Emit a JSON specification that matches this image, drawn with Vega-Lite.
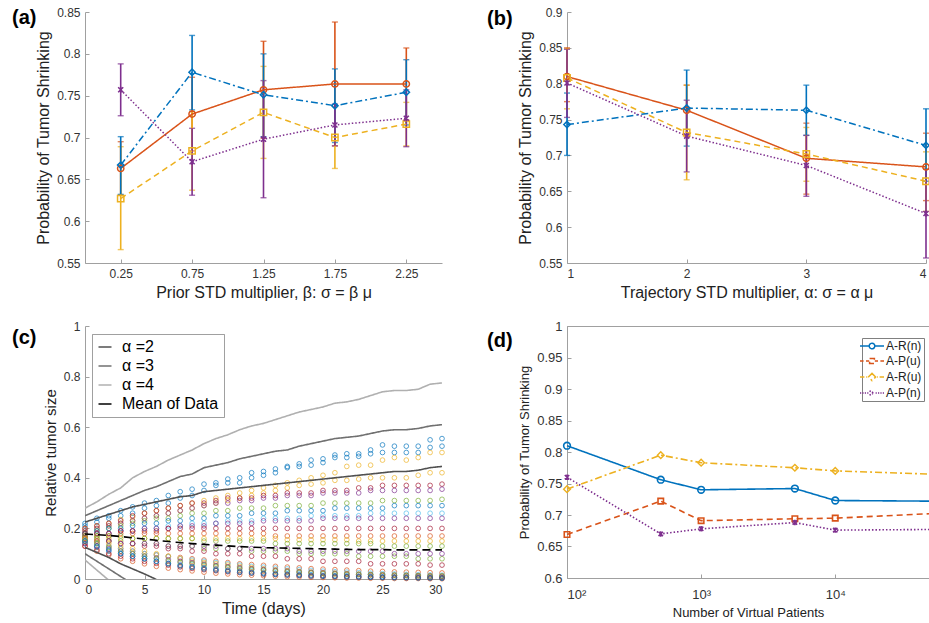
{
"$schema":"https://vega.github.io/schema/vega-lite/v6.json",
"background":"white",
"padding":{"left":12,"top":6,"right":0,"bottom":0},
"columns":2,
"align":"each",
"bounds":"flush",
"spacing":{"row":63,"column":125},
"resolve":{"scale":{"color":"independent","strokeDash":"independent","shape":"independent","strokeWidth":"independent"},"legend":{"color":"independent","strokeDash":"independent","shape":"independent","strokeWidth":"independent"}},
"datasets":{
"pa":[
{"x":0.25,"s":"o","m":0.663,"lo":0.631,"hi":0.695},{"x":0.25,"s":"y","m":0.627,"lo":0.566,"hi":0.689},{"x":0.25,"s":"b","m":0.667,"lo":0.632,"hi":0.701},{"x":0.25,"s":"p","m":0.757,"lo":0.726,"hi":0.788},
{"x":0.75,"s":"o","m":0.728,"lo":0.684,"hi":0.772},{"x":0.75,"s":"y","m":0.684,"lo":0.637,"hi":0.731},{"x":0.75,"s":"b","m":0.778,"lo":0.733,"hi":0.822},{"x":0.75,"s":"p","m":0.671,"lo":0.631,"hi":0.711},
{"x":1.25,"s":"o","m":0.757,"lo":0.699,"hi":0.815},{"x":1.25,"s":"y","m":0.73,"lo":0.675,"hi":0.785},{"x":1.25,"s":"b","m":0.751,"lo":0.701,"hi":0.8},{"x":1.25,"s":"p","m":0.698,"lo":0.628,"hi":0.768},
{"x":1.75,"s":"o","m":0.764,"lo":0.69,"hi":0.838},{"x":1.75,"s":"y","m":0.7,"lo":0.663,"hi":0.737},{"x":1.75,"s":"b","m":0.738,"lo":0.694,"hi":0.782},{"x":1.75,"s":"p","m":0.715,"lo":0.69,"hi":0.74},
{"x":2.25,"s":"o","m":0.764,"lo":0.721,"hi":0.807},{"x":2.25,"s":"y","m":0.716,"lo":0.69,"hi":0.742},{"x":2.25,"s":"b","m":0.754,"lo":0.715,"hi":0.793},{"x":2.25,"s":"p","m":0.723,"lo":0.689,"hi":0.757}
],
"pb":[
{"x":1,"s":"o","m":0.81,"lo":0.775,"hi":0.85},{"x":1,"s":"y","m":0.808,"lo":0.765,"hi":0.849},{"x":1,"s":"b","m":0.743,"lo":0.7,"hi":0.787},{"x":1,"s":"p","m":0.801,"lo":0.753,"hi":0.848},
{"x":2,"s":"o","m":0.763,"lo":0.727,"hi":0.798},{"x":2,"s":"y","m":0.732,"lo":0.666,"hi":0.798},{"x":2,"s":"b","m":0.766,"lo":0.713,"hi":0.819},{"x":2,"s":"p","m":0.727,"lo":0.677,"hi":0.777},
{"x":3,"s":"o","m":0.696,"lo":0.646,"hi":0.745},{"x":3,"s":"y","m":0.702,"lo":0.664,"hi":0.739},{"x":3,"s":"b","m":0.763,"lo":0.728,"hi":0.798},{"x":3,"s":"p","m":0.686,"lo":0.643,"hi":0.728},
{"x":4,"s":"o","m":0.684,"lo":0.637,"hi":0.731},{"x":4,"s":"y","m":0.664,"lo":0.622,"hi":0.705},{"x":4,"s":"b","m":0.714,"lo":0.664,"hi":0.765},{"x":4,"s":"p","m":0.619,"lo":0.557,"hi":0.681}
],
"pd":[
{"n":100,"s":"A-R(n)","v":0.81},{"n":500,"s":"A-R(n)","v":0.756},{"n":1000,"s":"A-R(n)","v":0.74},{"n":5000,"s":"A-R(n)","v":0.742},{"n":10000,"s":"A-R(n)","v":0.723},{"n":50000,"s":"A-R(n)","v":0.722},
{"n":100,"s":"A-P(u)","v":0.669},{"n":500,"s":"A-P(u)","v":0.722},{"n":1000,"s":"A-P(u)","v":0.691},{"n":5000,"s":"A-P(u)","v":0.694},{"n":10000,"s":"A-P(u)","v":0.695},{"n":50000,"s":"A-P(u)","v":0.702},
{"n":100,"s":"A-R(u)","v":0.741},{"n":500,"s":"A-R(u)","v":0.795},{"n":1000,"s":"A-R(u)","v":0.783},{"n":5000,"s":"A-R(u)","v":0.775},{"n":10000,"s":"A-R(u)","v":0.77},{"n":50000,"s":"A-R(u)","v":0.765},
{"n":100,"s":"A-P(n)","v":0.76},{"n":500,"s":"A-P(n)","v":0.67},{"n":1000,"s":"A-P(n)","v":0.678},{"n":5000,"s":"A-P(n)","v":0.688},{"n":10000,"s":"A-P(n)","v":0.676},{"n":50000,"s":"A-P(n)","v":0.677}
],
"curves":[
{"d":0,"v":0.225,"a":"α =2","k":"u"},{"d":1,"v":0.24,"a":"α =2","k":"u"},{"d":2,"v":0.255,"a":"α =2","k":"u"},{"d":3,"v":0.27,"a":"α =2","k":"u"},{"d":4,"v":0.285,"a":"α =2","k":"u"},{"d":5,"v":0.295,"a":"α =2","k":"u"},{"d":6,"v":0.305,"a":"α =2","k":"u"},{"d":7,"v":0.315,"a":"α =2","k":"u"},{"d":8,"v":0.325,"a":"α =2","k":"u"},{"d":9,"v":0.33,"a":"α =2","k":"u"},{"d":10,"v":0.345,"a":"α =2","k":"u"},{"d":11,"v":0.35,"a":"α =2","k":"u"},{"d":12,"v":0.355,"a":"α =2","k":"u"},{"d":13,"v":0.36,"a":"α =2","k":"u"},{"d":14,"v":0.365,"a":"α =2","k":"u"},{"d":15,"v":0.37,"a":"α =2","k":"u"},{"d":16,"v":0.375,"a":"α =2","k":"u"},{"d":17,"v":0.38,"a":"α =2","k":"u"},{"d":18,"v":0.385,"a":"α =2","k":"u"},{"d":19,"v":0.39,"a":"α =2","k":"u"},{"d":20,"v":0.395,"a":"α =2","k":"u"},{"d":21,"v":0.4,"a":"α =2","k":"u"},{"d":22,"v":0.405,"a":"α =2","k":"u"},{"d":23,"v":0.41,"a":"α =2","k":"u"},{"d":24,"v":0.415,"a":"α =2","k":"u"},{"d":25,"v":0.42,"a":"α =2","k":"u"},{"d":26,"v":0.425,"a":"α =2","k":"u"},{"d":27,"v":0.425,"a":"α =2","k":"u"},{"d":28,"v":0.43,"a":"α =2","k":"u"},{"d":29,"v":0.44,"a":"α =2","k":"u"},{"d":30,"v":0.445,"a":"α =2","k":"u"},
{"d":0,"v":0.125,"a":"α =2","k":"l"},{"d":1,"v":0.105,"a":"α =2","k":"l"},{"d":2,"v":0.085,"a":"α =2","k":"l"},{"d":3,"v":0.06,"a":"α =2","k":"l"},{"d":4,"v":0.04,"a":"α =2","k":"l"},{"d":5,"v":0.02,"a":"α =2","k":"l"},{"d":6,"v":-0.002,"a":"α =2","k":"l"},
{"d":0,"v":0.25,"a":"α =3","k":"u"},{"d":1,"v":0.27,"a":"α =3","k":"u"},{"d":2,"v":0.29,"a":"α =3","k":"u"},{"d":3,"v":0.31,"a":"α =3","k":"u"},{"d":4,"v":0.33,"a":"α =3","k":"u"},{"d":5,"v":0.35,"a":"α =3","k":"u"},{"d":6,"v":0.365,"a":"α =3","k":"u"},{"d":7,"v":0.385,"a":"α =3","k":"u"},{"d":8,"v":0.405,"a":"α =3","k":"u"},{"d":9,"v":0.415,"a":"α =3","k":"u"},{"d":10,"v":0.44,"a":"α =3","k":"u"},{"d":11,"v":0.45,"a":"α =3","k":"u"},{"d":12,"v":0.46,"a":"α =3","k":"u"},{"d":13,"v":0.475,"a":"α =3","k":"u"},{"d":14,"v":0.485,"a":"α =3","k":"u"},{"d":15,"v":0.495,"a":"α =3","k":"u"},{"d":16,"v":0.505,"a":"α =3","k":"u"},{"d":17,"v":0.51,"a":"α =3","k":"u"},{"d":18,"v":0.525,"a":"α =3","k":"u"},{"d":19,"v":0.535,"a":"α =3","k":"u"},{"d":20,"v":0.545,"a":"α =3","k":"u"},{"d":21,"v":0.555,"a":"α =3","k":"u"},{"d":22,"v":0.56,"a":"α =3","k":"u"},{"d":23,"v":0.565,"a":"α =3","k":"u"},{"d":24,"v":0.575,"a":"α =3","k":"u"},{"d":25,"v":0.585,"a":"α =3","k":"u"},{"d":26,"v":0.59,"a":"α =3","k":"u"},{"d":27,"v":0.59,"a":"α =3","k":"u"},{"d":28,"v":0.595,"a":"α =3","k":"u"},{"d":29,"v":0.605,"a":"α =3","k":"u"},{"d":30,"v":0.61,"a":"α =3","k":"u"},
{"d":0,"v":0.1,"a":"α =3","k":"l"},{"d":1,"v":0.07,"a":"α =3","k":"l"},{"d":2,"v":0.04,"a":"α =3","k":"l"},{"d":3,"v":0.01,"a":"α =3","k":"l"},{"d":4,"v":-0.02,"a":"α =3","k":"l"},
{"d":0,"v":0.28,"a":"α =4","k":"u"},{"d":1,"v":0.305,"a":"α =4","k":"u"},{"d":2,"v":0.335,"a":"α =4","k":"u"},{"d":3,"v":0.36,"a":"α =4","k":"u"},{"d":4,"v":0.4,"a":"α =4","k":"u"},{"d":5,"v":0.425,"a":"α =4","k":"u"},{"d":6,"v":0.445,"a":"α =4","k":"u"},{"d":7,"v":0.47,"a":"α =4","k":"u"},{"d":8,"v":0.49,"a":"α =4","k":"u"},{"d":9,"v":0.51,"a":"α =4","k":"u"},{"d":10,"v":0.535,"a":"α =4","k":"u"},{"d":11,"v":0.555,"a":"α =4","k":"u"},{"d":12,"v":0.57,"a":"α =4","k":"u"},{"d":13,"v":0.59,"a":"α =4","k":"u"},{"d":14,"v":0.605,"a":"α =4","k":"u"},{"d":15,"v":0.615,"a":"α =4","k":"u"},{"d":16,"v":0.63,"a":"α =4","k":"u"},{"d":17,"v":0.645,"a":"α =4","k":"u"},{"d":18,"v":0.66,"a":"α =4","k":"u"},{"d":19,"v":0.67,"a":"α =4","k":"u"},{"d":20,"v":0.68,"a":"α =4","k":"u"},{"d":21,"v":0.695,"a":"α =4","k":"u"},{"d":22,"v":0.7,"a":"α =4","k":"u"},{"d":23,"v":0.71,"a":"α =4","k":"u"},{"d":24,"v":0.725,"a":"α =4","k":"u"},{"d":25,"v":0.74,"a":"α =4","k":"u"},{"d":26,"v":0.745,"a":"α =4","k":"u"},{"d":27,"v":0.745,"a":"α =4","k":"u"},{"d":28,"v":0.75,"a":"α =4","k":"u"},{"d":29,"v":0.77,"a":"α =4","k":"u"},{"d":30,"v":0.775,"a":"α =4","k":"u"},
{"d":0,"v":0.075,"a":"α =4","k":"l"},{"d":1,"v":0.035,"a":"α =4","k":"l"},{"d":2,"v":-0.005,"a":"α =4","k":"l"},
{"d":0,"v":0.178,"a":"Mean of Data","k":"u"},{"d":1,"v":0.175,"a":"Mean of Data","k":"u"},{"d":2,"v":0.172,"a":"Mean of Data","k":"u"},{"d":3,"v":0.168,"a":"Mean of Data","k":"u"},{"d":4,"v":0.163,"a":"Mean of Data","k":"u"},{"d":5,"v":0.158,"a":"Mean of Data","k":"u"},{"d":6,"v":0.153,"a":"Mean of Data","k":"u"},{"d":7,"v":0.148,"a":"Mean of Data","k":"u"},{"d":8,"v":0.144,"a":"Mean of Data","k":"u"},{"d":9,"v":0.14,"a":"Mean of Data","k":"u"},{"d":10,"v":0.137,"a":"Mean of Data","k":"u"},{"d":11,"v":0.134,"a":"Mean of Data","k":"u"},{"d":12,"v":0.131,"a":"Mean of Data","k":"u"},{"d":13,"v":0.128,"a":"Mean of Data","k":"u"},{"d":14,"v":0.126,"a":"Mean of Data","k":"u"},{"d":15,"v":0.124,"a":"Mean of Data","k":"u"},{"d":16,"v":0.123,"a":"Mean of Data","k":"u"},{"d":17,"v":0.122,"a":"Mean of Data","k":"u"},{"d":18,"v":0.121,"a":"Mean of Data","k":"u"},{"d":19,"v":0.12,"a":"Mean of Data","k":"u"},{"d":20,"v":0.119,"a":"Mean of Data","k":"u"},{"d":21,"v":0.118,"a":"Mean of Data","k":"u"},{"d":22,"v":0.117,"a":"Mean of Data","k":"u"},{"d":23,"v":0.116,"a":"Mean of Data","k":"u"},{"d":24,"v":0.116,"a":"Mean of Data","k":"u"},{"d":25,"v":0.116,"a":"Mean of Data","k":"u"},{"d":26,"v":0.115,"a":"Mean of Data","k":"u"},{"d":27,"v":0.115,"a":"Mean of Data","k":"u"},{"d":28,"v":0.115,"a":"Mean of Data","k":"u"},{"d":29,"v":0.115,"a":"Mean of Data","k":"u"},{"d":30,"v":0.115,"a":"Mean of Data","k":"u"}
],
"traj":[
{"d":0,"v":0.22,"p":1},{"d":1,"v":0.24,"p":1},{"d":2,"v":0.25,"p":1},{"d":3,"v":0.27,"p":1},{"d":4,"v":0.285,"p":1},{"d":5,"v":0.3,"p":1},{"d":6,"v":0.31,"p":1},{"d":7,"v":0.33,"p":1},{"d":8,"v":0.345,"p":1},{"d":9,"v":0.355,"p":1},{"d":10,"v":0.375,"p":1},{"d":11,"v":0.38,"p":1},{"d":12,"v":0.395,"p":1},{"d":13,"v":0.4,"p":1},{"d":14,"v":0.42,"p":1},{"d":15,"v":0.425,"p":1},{"d":16,"v":0.435,"p":1},{"d":17,"v":0.445,"p":1},{"d":18,"v":0.455,"p":1},{"d":19,"v":0.47,"p":1},{"d":20,"v":0.475,"p":1},{"d":21,"v":0.49,"p":1},{"d":22,"v":0.495,"p":1},{"d":23,"v":0.495,"p":1},{"d":24,"v":0.51,"p":1},{"d":25,"v":0.53,"p":1},{"d":26,"v":0.525,"p":1},{"d":27,"v":0.525,"p":1},{"d":28,"v":0.525,"p":1},{"d":29,"v":0.55,"p":1},{"d":30,"v":0.555,"p":1},
{"d":0,"v":0.21,"p":2},{"d":1,"v":0.225,"p":2},{"d":2,"v":0.24,"p":2},{"d":3,"v":0.25,"p":2},{"d":4,"v":0.26,"p":2},{"d":5,"v":0.28,"p":2},{"d":6,"v":0.29,"p":2},{"d":7,"v":0.3,"p":2},{"d":8,"v":0.32,"p":2},{"d":9,"v":0.33,"p":2},{"d":10,"v":0.35,"p":2},{"d":11,"v":0.37,"p":2},{"d":12,"v":0.38,"p":2},{"d":13,"v":0.38,"p":2},{"d":14,"v":0.4,"p":2},{"d":15,"v":0.41,"p":2},{"d":16,"v":0.42,"p":2},{"d":17,"v":0.44,"p":2},{"d":18,"v":0.445,"p":2},{"d":19,"v":0.45,"p":2},{"d":20,"v":0.46,"p":2},{"d":21,"v":0.48,"p":2},{"d":22,"v":0.48,"p":2},{"d":23,"v":0.485,"p":2},{"d":24,"v":0.495,"p":2},{"d":25,"v":0.5,"p":2},{"d":26,"v":0.5,"p":2},{"d":27,"v":0.5,"p":2},{"d":28,"v":0.5,"p":2},{"d":29,"v":0.52,"p":2},{"d":30,"v":0.525,"p":2},
{"d":0,"v":0.2,"p":3},{"d":1,"v":0.21,"p":3},{"d":2,"v":0.22,"p":3},{"d":3,"v":0.235,"p":3},{"d":4,"v":0.245,"p":3},{"d":5,"v":0.26,"p":3},{"d":6,"v":0.27,"p":3},{"d":7,"v":0.28,"p":3},{"d":8,"v":0.29,"p":3},{"d":9,"v":0.3,"p":3},{"d":10,"v":0.31,"p":3},{"d":11,"v":0.32,"p":3},{"d":12,"v":0.33,"p":3},{"d":13,"v":0.34,"p":3},{"d":14,"v":0.35,"p":3},{"d":15,"v":0.36,"p":3},{"d":16,"v":0.37,"p":3},{"d":17,"v":0.38,"p":3},{"d":18,"v":0.39,"p":3},{"d":19,"v":0.4,"p":3},{"d":20,"v":0.41,"p":3},{"d":21,"v":0.42,"p":3},{"d":22,"v":0.445,"p":3},{"d":23,"v":0.45,"p":3},{"d":24,"v":0.45,"p":3},{"d":25,"v":0.47,"p":3},{"d":26,"v":0.48,"p":3},{"d":27,"v":0.47,"p":3},{"d":28,"v":0.48,"p":3},{"d":29,"v":0.5,"p":3},{"d":30,"v":0.5,"p":3},
{"d":0,"v":0.19,"p":4},{"d":1,"v":0.2,"p":4},{"d":2,"v":0.21,"p":4},{"d":3,"v":0.22,"p":4},{"d":4,"v":0.23,"p":4},{"d":5,"v":0.24,"p":4},{"d":6,"v":0.25,"p":4},{"d":7,"v":0.26,"p":4},{"d":8,"v":0.27,"p":4},{"d":9,"v":0.28,"p":4},{"d":10,"v":0.29,"p":4},{"d":11,"v":0.3,"p":4},{"d":12,"v":0.31,"p":4},{"d":13,"v":0.32,"p":4},{"d":14,"v":0.33,"p":4},{"d":15,"v":0.34,"p":4},{"d":16,"v":0.35,"p":4},{"d":17,"v":0.36,"p":4},{"d":18,"v":0.37,"p":4},{"d":19,"v":0.375,"p":4},{"d":20,"v":0.38,"p":4},{"d":21,"v":0.39,"p":4},{"d":22,"v":0.39,"p":4},{"d":23,"v":0.395,"p":4},{"d":24,"v":0.4,"p":4},{"d":25,"v":0.4,"p":4},{"d":26,"v":0.4,"p":4},{"d":27,"v":0.4,"p":4},{"d":28,"v":0.41,"p":4},{"d":29,"v":0.42,"p":4},{"d":30,"v":0.42,"p":4},
{"d":0,"v":0.2,"p":5},{"d":1,"v":0.21,"p":5},{"d":2,"v":0.22,"p":5},{"d":3,"v":0.23,"p":5},{"d":4,"v":0.25,"p":5},{"d":5,"v":0.26,"p":5},{"d":6,"v":0.27,"p":5},{"d":7,"v":0.28,"p":5},{"d":8,"v":0.29,"p":5},{"d":9,"v":0.3,"p":5},{"d":10,"v":0.3,"p":5},{"d":11,"v":0.31,"p":5},{"d":12,"v":0.32,"p":5},{"d":13,"v":0.32,"p":5},{"d":14,"v":0.32,"p":5},{"d":15,"v":0.33,"p":5},{"d":16,"v":0.33,"p":5},{"d":17,"v":0.34,"p":5},{"d":18,"v":0.34,"p":5},{"d":19,"v":0.34,"p":5},{"d":20,"v":0.35,"p":5},{"d":21,"v":0.35,"p":5},{"d":22,"v":0.35,"p":5},{"d":23,"v":0.36,"p":5},{"d":24,"v":0.36,"p":5},{"d":25,"v":0.37,"p":5},{"d":26,"v":0.37,"p":5},{"d":27,"v":0.37,"p":5},{"d":28,"v":0.37,"p":5},{"d":29,"v":0.37,"p":5},{"d":30,"v":0.375,"p":5},
{"d":0,"v":0.19,"p":6},{"d":1,"v":0.2,"p":6},{"d":2,"v":0.21,"p":6},{"d":3,"v":0.22,"p":6},{"d":4,"v":0.23,"p":6},{"d":5,"v":0.24,"p":6},{"d":6,"v":0.25,"p":6},{"d":7,"v":0.26,"p":6},{"d":8,"v":0.27,"p":6},{"d":9,"v":0.28,"p":6},{"d":10,"v":0.29,"p":6},{"d":11,"v":0.3,"p":6},{"d":12,"v":0.3,"p":6},{"d":13,"v":0.31,"p":6},{"d":14,"v":0.31,"p":6},{"d":15,"v":0.32,"p":6},{"d":16,"v":0.32,"p":6},{"d":17,"v":0.33,"p":6},{"d":18,"v":0.33,"p":6},{"d":19,"v":0.33,"p":6},{"d":20,"v":0.34,"p":6},{"d":21,"v":0.34,"p":6},{"d":22,"v":0.34,"p":6},{"d":23,"v":0.34,"p":6},{"d":24,"v":0.35,"p":6},{"d":25,"v":0.35,"p":6},{"d":26,"v":0.35,"p":6},{"d":27,"v":0.35,"p":6},{"d":28,"v":0.35,"p":6},{"d":29,"v":0.35,"p":6},{"d":30,"v":0.355,"p":6},
{"d":0,"v":0.18,"p":7},{"d":1,"v":0.19,"p":7},{"d":2,"v":0.2,"p":7},{"d":3,"v":0.21,"p":7},{"d":4,"v":0.22,"p":7},{"d":5,"v":0.23,"p":7},{"d":6,"v":0.24,"p":7},{"d":7,"v":0.24,"p":7},{"d":8,"v":0.25,"p":7},{"d":9,"v":0.26,"p":7},{"d":10,"v":0.26,"p":7},{"d":11,"v":0.27,"p":7},{"d":12,"v":0.27,"p":7},{"d":13,"v":0.28,"p":7},{"d":14,"v":0.28,"p":7},{"d":15,"v":0.28,"p":7},{"d":16,"v":0.29,"p":7},{"d":17,"v":0.29,"p":7},{"d":18,"v":0.29,"p":7},{"d":19,"v":0.29,"p":7},{"d":20,"v":0.3,"p":7},{"d":21,"v":0.3,"p":7},{"d":22,"v":0.3,"p":7},{"d":23,"v":0.3,"p":7},{"d":24,"v":0.3,"p":7},{"d":25,"v":0.31,"p":7},{"d":26,"v":0.31,"p":7},{"d":27,"v":0.31,"p":7},{"d":28,"v":0.31,"p":7},{"d":29,"v":0.31,"p":7},{"d":30,"v":0.315,"p":7},
{"d":0,"v":0.18,"p":8},{"d":1,"v":0.19,"p":8},{"d":2,"v":0.2,"p":8},{"d":3,"v":0.2,"p":8},{"d":4,"v":0.21,"p":8},{"d":5,"v":0.22,"p":8},{"d":6,"v":0.22,"p":8},{"d":7,"v":0.23,"p":8},{"d":8,"v":0.23,"p":8},{"d":9,"v":0.24,"p":8},{"d":10,"v":0.24,"p":8},{"d":11,"v":0.25,"p":8},{"d":12,"v":0.25,"p":8},{"d":13,"v":0.25,"p":8},{"d":14,"v":0.26,"p":8},{"d":15,"v":0.26,"p":8},{"d":16,"v":0.26,"p":8},{"d":17,"v":0.27,"p":8},{"d":18,"v":0.27,"p":8},{"d":19,"v":0.27,"p":8},{"d":20,"v":0.27,"p":8},{"d":21,"v":0.28,"p":8},{"d":22,"v":0.28,"p":8},{"d":23,"v":0.28,"p":8},{"d":24,"v":0.28,"p":8},{"d":25,"v":0.28,"p":8},{"d":26,"v":0.29,"p":8},{"d":27,"v":0.29,"p":8},{"d":28,"v":0.29,"p":8},{"d":29,"v":0.29,"p":8},{"d":30,"v":0.29,"p":8},
{"d":0,"v":0.17,"p":9},{"d":1,"v":0.18,"p":9},{"d":2,"v":0.18,"p":9},{"d":3,"v":0.19,"p":9},{"d":4,"v":0.19,"p":9},{"d":5,"v":0.2,"p":9},{"d":6,"v":0.2,"p":9},{"d":7,"v":0.21,"p":9},{"d":8,"v":0.21,"p":9},{"d":9,"v":0.22,"p":9},{"d":10,"v":0.22,"p":9},{"d":11,"v":0.22,"p":9},{"d":12,"v":0.23,"p":9},{"d":13,"v":0.23,"p":9},{"d":14,"v":0.23,"p":9},{"d":15,"v":0.24,"p":9},{"d":16,"v":0.24,"p":9},{"d":17,"v":0.24,"p":9},{"d":18,"v":0.24,"p":9},{"d":19,"v":0.25,"p":9},{"d":20,"v":0.25,"p":9},{"d":21,"v":0.25,"p":9},{"d":22,"v":0.25,"p":9},{"d":23,"v":0.25,"p":9},{"d":24,"v":0.26,"p":9},{"d":25,"v":0.26,"p":9},{"d":26,"v":0.26,"p":9},{"d":27,"v":0.26,"p":9},{"d":28,"v":0.26,"p":9},{"d":29,"v":0.26,"p":9},{"d":30,"v":0.26,"p":9},
{"d":0,"v":0.17,"p":10},{"d":1,"v":0.18,"p":10},{"d":2,"v":0.18,"p":10},{"d":3,"v":0.19,"p":10},{"d":4,"v":0.19,"p":10},{"d":5,"v":0.2,"p":10},{"d":6,"v":0.2,"p":10},{"d":7,"v":0.2,"p":10},{"d":8,"v":0.21,"p":10},{"d":9,"v":0.21,"p":10},{"d":10,"v":0.21,"p":10},{"d":11,"v":0.22,"p":10},{"d":12,"v":0.22,"p":10},{"d":13,"v":0.22,"p":10},{"d":14,"v":0.22,"p":10},{"d":15,"v":0.23,"p":10},{"d":16,"v":0.23,"p":10},{"d":17,"v":0.23,"p":10},{"d":18,"v":0.23,"p":10},{"d":19,"v":0.23,"p":10},{"d":20,"v":0.24,"p":10},{"d":21,"v":0.24,"p":10},{"d":22,"v":0.24,"p":10},{"d":23,"v":0.24,"p":10},{"d":24,"v":0.24,"p":10},{"d":25,"v":0.24,"p":10},{"d":26,"v":0.24,"p":10},{"d":27,"v":0.24,"p":10},{"d":28,"v":0.24,"p":10},{"d":29,"v":0.24,"p":10},{"d":30,"v":0.24,"p":10},
{"d":0,"v":0.18,"p":11},{"d":1,"v":0.18,"p":11},{"d":2,"v":0.18,"p":11},{"d":3,"v":0.19,"p":11},{"d":4,"v":0.19,"p":11},{"d":5,"v":0.19,"p":11},{"d":6,"v":0.19,"p":11},{"d":7,"v":0.2,"p":11},{"d":8,"v":0.2,"p":11},{"d":9,"v":0.2,"p":11},{"d":10,"v":0.2,"p":11},{"d":11,"v":0.2,"p":11},{"d":12,"v":0.2,"p":11},{"d":13,"v":0.2,"p":11},{"d":14,"v":0.2,"p":11},{"d":15,"v":0.2,"p":11},{"d":16,"v":0.2,"p":11},{"d":17,"v":0.2,"p":11},{"d":18,"v":0.2,"p":11},{"d":19,"v":0.2,"p":11},{"d":20,"v":0.2,"p":11},{"d":21,"v":0.2,"p":11},{"d":22,"v":0.2,"p":11},{"d":23,"v":0.2,"p":11},{"d":24,"v":0.2,"p":11},{"d":25,"v":0.2,"p":11},{"d":26,"v":0.2,"p":11},{"d":27,"v":0.2,"p":11},{"d":28,"v":0.2,"p":11},{"d":29,"v":0.2,"p":11},{"d":30,"v":0.2,"p":11},
{"d":0,"v":0.17,"p":12},{"d":1,"v":0.17,"p":12},{"d":2,"v":0.17,"p":12},{"d":3,"v":0.18,"p":12},{"d":4,"v":0.18,"p":12},{"d":5,"v":0.18,"p":12},{"d":6,"v":0.18,"p":12},{"d":7,"v":0.18,"p":12},{"d":8,"v":0.18,"p":12},{"d":9,"v":0.18,"p":12},{"d":10,"v":0.18,"p":12},{"d":11,"v":0.18,"p":12},{"d":12,"v":0.18,"p":12},{"d":13,"v":0.18,"p":12},{"d":14,"v":0.18,"p":12},{"d":15,"v":0.18,"p":12},{"d":16,"v":0.17,"p":12},{"d":17,"v":0.17,"p":12},{"d":18,"v":0.17,"p":12},{"d":19,"v":0.17,"p":12},{"d":20,"v":0.17,"p":12},{"d":21,"v":0.17,"p":12},{"d":22,"v":0.17,"p":12},{"d":23,"v":0.17,"p":12},{"d":24,"v":0.17,"p":12},{"d":25,"v":0.17,"p":12},{"d":26,"v":0.17,"p":12},{"d":27,"v":0.17,"p":12},{"d":28,"v":0.17,"p":12},{"d":29,"v":0.17,"p":12},{"d":30,"v":0.17,"p":12},
{"d":0,"v":0.16,"p":13},{"d":1,"v":0.16,"p":13},{"d":2,"v":0.16,"p":13},{"d":3,"v":0.16,"p":13},{"d":4,"v":0.16,"p":13},{"d":5,"v":0.16,"p":13},{"d":6,"v":0.16,"p":13},{"d":7,"v":0.16,"p":13},{"d":8,"v":0.16,"p":13},{"d":9,"v":0.16,"p":13},{"d":10,"v":0.16,"p":13},{"d":11,"v":0.16,"p":13},{"d":12,"v":0.16,"p":13},{"d":13,"v":0.16,"p":13},{"d":14,"v":0.16,"p":13},{"d":15,"v":0.16,"p":13},{"d":16,"v":0.16,"p":13},{"d":17,"v":0.155,"p":13},{"d":18,"v":0.155,"p":13},{"d":19,"v":0.155,"p":13},{"d":20,"v":0.155,"p":13},{"d":21,"v":0.155,"p":13},{"d":22,"v":0.155,"p":13},{"d":23,"v":0.15,"p":13},{"d":24,"v":0.15,"p":13},{"d":25,"v":0.15,"p":13},{"d":26,"v":0.15,"p":13},{"d":27,"v":0.15,"p":13},{"d":28,"v":0.15,"p":13},{"d":29,"v":0.15,"p":13},{"d":30,"v":0.15,"p":13},
{"d":0,"v":0.17,"p":14},{"d":1,"v":0.17,"p":14},{"d":2,"v":0.17,"p":14},{"d":3,"v":0.17,"p":14},{"d":4,"v":0.16,"p":14},{"d":5,"v":0.16,"p":14},{"d":6,"v":0.16,"p":14},{"d":7,"v":0.16,"p":14},{"d":8,"v":0.16,"p":14},{"d":9,"v":0.16,"p":14},{"d":10,"v":0.15,"p":14},{"d":11,"v":0.15,"p":14},{"d":12,"v":0.15,"p":14},{"d":13,"v":0.15,"p":14},{"d":14,"v":0.15,"p":14},{"d":15,"v":0.15,"p":14},{"d":16,"v":0.14,"p":14},{"d":17,"v":0.14,"p":14},{"d":18,"v":0.14,"p":14},{"d":19,"v":0.14,"p":14},{"d":20,"v":0.14,"p":14},{"d":21,"v":0.14,"p":14},{"d":22,"v":0.14,"p":14},{"d":23,"v":0.14,"p":14},{"d":24,"v":0.14,"p":14},{"d":25,"v":0.13,"p":14},{"d":26,"v":0.13,"p":14},{"d":27,"v":0.13,"p":14},{"d":28,"v":0.13,"p":14},{"d":29,"v":0.13,"p":14},{"d":30,"v":0.13,"p":14},
{"d":0,"v":0.16,"p":15},{"d":1,"v":0.16,"p":15},{"d":2,"v":0.15,"p":15},{"d":3,"v":0.15,"p":15},{"d":4,"v":0.14,"p":15},{"d":5,"v":0.14,"p":15},{"d":6,"v":0.14,"p":15},{"d":7,"v":0.13,"p":15},{"d":8,"v":0.13,"p":15},{"d":9,"v":0.13,"p":15},{"d":10,"v":0.12,"p":15},{"d":11,"v":0.12,"p":15},{"d":12,"v":0.12,"p":15},{"d":13,"v":0.12,"p":15},{"d":14,"v":0.11,"p":15},{"d":15,"v":0.11,"p":15},{"d":16,"v":0.11,"p":15},{"d":17,"v":0.11,"p":15},{"d":18,"v":0.1,"p":15},{"d":19,"v":0.1,"p":15},{"d":20,"v":0.1,"p":15},{"d":21,"v":0.1,"p":15},{"d":22,"v":0.1,"p":15},{"d":23,"v":0.09,"p":15},{"d":24,"v":0.09,"p":15},{"d":25,"v":0.09,"p":15},{"d":26,"v":0.09,"p":15},{"d":27,"v":0.09,"p":15},{"d":28,"v":0.08,"p":15},{"d":29,"v":0.08,"p":15},{"d":30,"v":0.08,"p":15},
{"d":0,"v":0.16,"p":16},{"d":1,"v":0.15,"p":16},{"d":2,"v":0.15,"p":16},{"d":3,"v":0.14,"p":16},{"d":4,"v":0.14,"p":16},{"d":5,"v":0.13,"p":16},{"d":6,"v":0.13,"p":16},{"d":7,"v":0.12,"p":16},{"d":8,"v":0.12,"p":16},{"d":9,"v":0.11,"p":16},{"d":10,"v":0.11,"p":16},{"d":11,"v":0.1,"p":16},{"d":12,"v":0.1,"p":16},{"d":13,"v":0.1,"p":16},{"d":14,"v":0.09,"p":16},{"d":15,"v":0.09,"p":16},{"d":16,"v":0.09,"p":16},{"d":17,"v":0.08,"p":16},{"d":18,"v":0.08,"p":16},{"d":19,"v":0.08,"p":16},{"d":20,"v":0.07,"p":16},{"d":21,"v":0.07,"p":16},{"d":22,"v":0.07,"p":16},{"d":23,"v":0.07,"p":16},{"d":24,"v":0.06,"p":16},{"d":25,"v":0.06,"p":16},{"d":26,"v":0.06,"p":16},{"d":27,"v":0.06,"p":16},{"d":28,"v":0.06,"p":16},{"d":29,"v":0.055,"p":16},{"d":30,"v":0.055,"p":16},
{"d":0,"v":0.15,"p":17},{"d":1,"v":0.15,"p":17},{"d":2,"v":0.15,"p":17},{"d":3,"v":0.14,"p":17},{"d":4,"v":0.14,"p":17},{"d":5,"v":0.14,"p":17},{"d":6,"v":0.14,"p":17},{"d":7,"v":0.13,"p":17},{"d":8,"v":0.13,"p":17},{"d":9,"v":0.13,"p":17},{"d":10,"v":0.13,"p":17},{"d":11,"v":0.13,"p":17},{"d":12,"v":0.12,"p":17},{"d":13,"v":0.12,"p":17},{"d":14,"v":0.12,"p":17},{"d":15,"v":0.12,"p":17},{"d":16,"v":0.12,"p":17},{"d":17,"v":0.12,"p":17},{"d":18,"v":0.11,"p":17},{"d":19,"v":0.11,"p":17},{"d":20,"v":0.11,"p":17},{"d":21,"v":0.11,"p":17},{"d":22,"v":0.11,"p":17},{"d":23,"v":0.11,"p":17},{"d":24,"v":0.11,"p":17},{"d":25,"v":0.11,"p":17},{"d":26,"v":0.1,"p":17},{"d":27,"v":0.1,"p":17},{"d":28,"v":0.1,"p":17},{"d":29,"v":0.1,"p":17},{"d":30,"v":0.1,"p":17},
{"d":0,"v":0.15,"p":18},{"d":1,"v":0.14,"p":18},{"d":2,"v":0.13,"p":18},{"d":3,"v":0.12,"p":18},{"d":4,"v":0.11,"p":18},{"d":5,"v":0.1,"p":18},{"d":6,"v":0.095,"p":18},{"d":7,"v":0.09,"p":18},{"d":8,"v":0.085,"p":18},{"d":9,"v":0.08,"p":18},{"d":10,"v":0.075,"p":18},{"d":11,"v":0.07,"p":18},{"d":12,"v":0.065,"p":18},{"d":13,"v":0.06,"p":18},{"d":14,"v":0.057,"p":18},{"d":15,"v":0.054,"p":18},{"d":16,"v":0.05,"p":18},{"d":17,"v":0.047,"p":18},{"d":18,"v":0.044,"p":18},{"d":19,"v":0.041,"p":18},{"d":20,"v":0.039,"p":18},{"d":21,"v":0.037,"p":18},{"d":22,"v":0.035,"p":18},{"d":23,"v":0.033,"p":18},{"d":24,"v":0.031,"p":18},{"d":25,"v":0.03,"p":18},{"d":26,"v":0.028,"p":18},{"d":27,"v":0.027,"p":18},{"d":28,"v":0.026,"p":18},{"d":29,"v":0.025,"p":18},{"d":30,"v":0.024,"p":18},
{"d":0,"v":0.14,"p":19},{"d":1,"v":0.125,"p":19},{"d":2,"v":0.11,"p":19},{"d":3,"v":0.1,"p":19},{"d":4,"v":0.09,"p":19},{"d":5,"v":0.08,"p":19},{"d":6,"v":0.07,"p":19},{"d":7,"v":0.062,"p":19},{"d":8,"v":0.055,"p":19},{"d":9,"v":0.05,"p":19},{"d":10,"v":0.045,"p":19},{"d":11,"v":0.04,"p":19},{"d":12,"v":0.035,"p":19},{"d":13,"v":0.032,"p":19},{"d":14,"v":0.028,"p":19},{"d":15,"v":0.025,"p":19},{"d":16,"v":0.022,"p":19},{"d":17,"v":0.02,"p":19},{"d":18,"v":0.018,"p":19},{"d":19,"v":0.016,"p":19},{"d":20,"v":0.014,"p":19},{"d":21,"v":0.013,"p":19},{"d":22,"v":0.012,"p":19},{"d":23,"v":0.011,"p":19},{"d":24,"v":0.01,"p":19},{"d":25,"v":0.009,"p":19},{"d":26,"v":0.008,"p":19},{"d":27,"v":0.007,"p":19},{"d":28,"v":0.007,"p":19},{"d":29,"v":0.006,"p":19},{"d":30,"v":0.006,"p":19},
{"d":0,"v":0.15,"p":20},{"d":1,"v":0.14,"p":20},{"d":2,"v":0.13,"p":20},{"d":3,"v":0.12,"p":20},{"d":4,"v":0.11,"p":20},{"d":5,"v":0.1,"p":20},{"d":6,"v":0.095,"p":20},{"d":7,"v":0.088,"p":20},{"d":8,"v":0.08,"p":20},{"d":9,"v":0.075,"p":20},{"d":10,"v":0.07,"p":20},{"d":11,"v":0.065,"p":20},{"d":12,"v":0.06,"p":20},{"d":13,"v":0.055,"p":20},{"d":14,"v":0.05,"p":20},{"d":15,"v":0.047,"p":20},{"d":16,"v":0.043,"p":20},{"d":17,"v":0.04,"p":20},{"d":18,"v":0.037,"p":20},{"d":19,"v":0.034,"p":20},{"d":20,"v":0.031,"p":20},{"d":21,"v":0.029,"p":20},{"d":22,"v":0.027,"p":20},{"d":23,"v":0.025,"p":20},{"d":24,"v":0.023,"p":20},{"d":25,"v":0.021,"p":20},{"d":26,"v":0.02,"p":20},{"d":27,"v":0.018,"p":20},{"d":28,"v":0.017,"p":20},{"d":29,"v":0.016,"p":20},{"d":30,"v":0.015,"p":20},
{"d":0,"v":0.13,"p":21},{"d":1,"v":0.11,"p":21},{"d":2,"v":0.095,"p":21},{"d":3,"v":0.08,"p":21},{"d":4,"v":0.07,"p":21},{"d":5,"v":0.06,"p":21},{"d":6,"v":0.05,"p":21},{"d":7,"v":0.043,"p":21},{"d":8,"v":0.037,"p":21},{"d":9,"v":0.032,"p":21},{"d":10,"v":0.027,"p":21},{"d":11,"v":0.023,"p":21},{"d":12,"v":0.02,"p":21},{"d":13,"v":0.017,"p":21},{"d":14,"v":0.015,"p":21},{"d":15,"v":0.013,"p":21},{"d":16,"v":0.011,"p":21},{"d":17,"v":0.009,"p":21},{"d":18,"v":0.008,"p":21},{"d":19,"v":0.007,"p":21},{"d":20,"v":0.006,"p":21},{"d":21,"v":0.005,"p":21},{"d":22,"v":0.004,"p":21},{"d":23,"v":0.004,"p":21},{"d":24,"v":0.003,"p":21},{"d":25,"v":0.003,"p":21},{"d":26,"v":0.002,"p":21},{"d":27,"v":0.002,"p":21},{"d":28,"v":0.002,"p":21},{"d":29,"v":0.001,"p":21},{"d":30,"v":0.001,"p":21},
{"d":0,"v":0.16,"p":22},{"d":1,"v":0.15,"p":22},{"d":2,"v":0.14,"p":22},{"d":3,"v":0.13,"p":22},{"d":4,"v":0.12,"p":22},{"d":5,"v":0.11,"p":22},{"d":6,"v":0.1,"p":22},{"d":7,"v":0.09,"p":22},{"d":8,"v":0.08,"p":22},{"d":9,"v":0.07,"p":22},{"d":10,"v":0.065,"p":22},{"d":11,"v":0.06,"p":22},{"d":12,"v":0.055,"p":22},{"d":13,"v":0.05,"p":22},{"d":14,"v":0.045,"p":22},{"d":15,"v":0.04,"p":22},{"d":16,"v":0.036,"p":22},{"d":17,"v":0.033,"p":22},{"d":18,"v":0.03,"p":22},{"d":19,"v":0.027,"p":22},{"d":20,"v":0.025,"p":22},{"d":21,"v":0.023,"p":22},{"d":22,"v":0.021,"p":22},{"d":23,"v":0.019,"p":22},{"d":24,"v":0.017,"p":22},{"d":25,"v":0.016,"p":22},{"d":26,"v":0.015,"p":22},{"d":27,"v":0.014,"p":22},{"d":28,"v":0.013,"p":22},{"d":29,"v":0.012,"p":22},{"d":30,"v":0.011,"p":22},
{"d":0,"v":0.14,"p":23},{"d":1,"v":0.13,"p":23},{"d":2,"v":0.12,"p":23},{"d":3,"v":0.11,"p":23},{"d":4,"v":0.1,"p":23},{"d":5,"v":0.09,"p":23},{"d":6,"v":0.083,"p":23},{"d":7,"v":0.076,"p":23},{"d":8,"v":0.07,"p":23},{"d":9,"v":0.064,"p":23},{"d":10,"v":0.058,"p":23},{"d":11,"v":0.053,"p":23},{"d":12,"v":0.048,"p":23},{"d":13,"v":0.044,"p":23},{"d":14,"v":0.04,"p":23},{"d":15,"v":0.037,"p":23},{"d":16,"v":0.034,"p":23},{"d":17,"v":0.031,"p":23},{"d":18,"v":0.028,"p":23},{"d":19,"v":0.026,"p":23},{"d":20,"v":0.024,"p":23},{"d":21,"v":0.022,"p":23},{"d":22,"v":0.02,"p":23},{"d":23,"v":0.018,"p":23},{"d":24,"v":0.017,"p":23},{"d":25,"v":0.016,"p":23},{"d":26,"v":0.015,"p":23},{"d":27,"v":0.014,"p":23},{"d":28,"v":0.013,"p":23},{"d":29,"v":0.012,"p":23},{"d":30,"v":0.011,"p":23},
{"d":0,"v":0.15,"p":24},{"d":1,"v":0.14,"p":24},{"d":2,"v":0.125,"p":24},{"d":3,"v":0.11,"p":24},{"d":4,"v":0.1,"p":24},{"d":5,"v":0.09,"p":24},{"d":6,"v":0.08,"p":24},{"d":7,"v":0.07,"p":24},{"d":8,"v":0.065,"p":24},{"d":9,"v":0.06,"p":24},{"d":10,"v":0.055,"p":24},{"d":11,"v":0.05,"p":24},{"d":12,"v":0.045,"p":24},{"d":13,"v":0.04,"p":24},{"d":14,"v":0.037,"p":24},{"d":15,"v":0.034,"p":24},{"d":16,"v":0.031,"p":24},{"d":17,"v":0.028,"p":24},{"d":18,"v":0.026,"p":24},{"d":19,"v":0.024,"p":24},{"d":20,"v":0.022,"p":24},{"d":21,"v":0.02,"p":24},{"d":22,"v":0.019,"p":24},{"d":23,"v":0.018,"p":24},{"d":24,"v":0.017,"p":24},{"d":25,"v":0.016,"p":24},{"d":26,"v":0.015,"p":24},{"d":27,"v":0.014,"p":24},{"d":28,"v":0.013,"p":24},{"d":29,"v":0.012,"p":24},{"d":30,"v":0.012,"p":24},
{"d":0,"v":0.13,"p":25},{"d":1,"v":0.115,"p":25},{"d":2,"v":0.1,"p":25},{"d":3,"v":0.09,"p":25},{"d":4,"v":0.08,"p":25},{"d":5,"v":0.07,"p":25},{"d":6,"v":0.062,"p":25},{"d":7,"v":0.055,"p":25},{"d":8,"v":0.048,"p":25},{"d":9,"v":0.042,"p":25},{"d":10,"v":0.037,"p":25},{"d":11,"v":0.033,"p":25},{"d":12,"v":0.029,"p":25},{"d":13,"v":0.026,"p":25},{"d":14,"v":0.023,"p":25},{"d":15,"v":0.02,"p":25},{"d":16,"v":0.018,"p":25},{"d":17,"v":0.016,"p":25},{"d":18,"v":0.014,"p":25},{"d":19,"v":0.012,"p":25},{"d":20,"v":0.011,"p":25},{"d":21,"v":0.01,"p":25},{"d":22,"v":0.009,"p":25},{"d":23,"v":0.008,"p":25},{"d":24,"v":0.007,"p":25},{"d":25,"v":0.006,"p":25},{"d":26,"v":0.006,"p":25},{"d":27,"v":0.005,"p":25},{"d":28,"v":0.005,"p":25},{"d":29,"v":0.004,"p":25},{"d":30,"v":0.004,"p":25},
{"d":0,"v":0.15,"p":26},{"d":1,"v":0.13,"p":26},{"d":2,"v":0.115,"p":26},{"d":3,"v":0.1,"p":26},{"d":4,"v":0.09,"p":26},{"d":5,"v":0.08,"p":26},{"d":6,"v":0.07,"p":26},{"d":7,"v":0.06,"p":26},{"d":8,"v":0.052,"p":26},{"d":9,"v":0.046,"p":26},{"d":10,"v":0.04,"p":26},{"d":11,"v":0.035,"p":26},{"d":12,"v":0.031,"p":26},{"d":13,"v":0.027,"p":26},{"d":14,"v":0.024,"p":26},{"d":15,"v":0.021,"p":26},{"d":16,"v":0.018,"p":26},{"d":17,"v":0.016,"p":26},{"d":18,"v":0.014,"p":26},{"d":19,"v":0.012,"p":26},{"d":20,"v":0.011,"p":26},{"d":21,"v":0.01,"p":26},{"d":22,"v":0.009,"p":26},{"d":23,"v":0.008,"p":26},{"d":24,"v":0.007,"p":26},{"d":25,"v":0.006,"p":26},{"d":26,"v":0.005,"p":26},{"d":27,"v":0.005,"p":26},{"d":28,"v":0.004,"p":26},{"d":29,"v":0.004,"p":26},{"d":30,"v":0.003,"p":26}
]
},
"concat":[
{
"width":357,"height":251,
"title":{"text":"(a)","dx":-73,"dy":26},
"data":{"name":"pa"},
"encoding":{
"x":{"field":"x","type":"quantitative","scale":{"domain":[0,2.5]},"axis":{"values":[0.25,0.75,1.25,1.75,2.25],"format":".2f"},"title":"Prior STD multiplier, β: σ = β μ"},
"color":{"field":"s","type":"nominal","scale":{"domain":["o","y","b","p"],"range":["#D95319","#EDB120","#0072BD","#7E2F8E"]},"legend":null}
},
"layer":[
{"mark":{"type":"errorbar","thickness":1.6,"ticks":{"size":6,"thickness":1.4}},
"encoding":{"y":{"field":"lo","type":"quantitative","scale":{"domain":[0.55,0.85],"nice":false},"axis":{"values":[0.55,0.6,0.65,0.7,0.75,0.8,0.85],"format":"~g","labelOverlap":false},"title":"Probability of Tumor Shrinking"},"y2":{"field":"hi"}}},
{"mark":{"type":"line","strokeWidth":1.5},
"encoding":{"y":{"field":"m","type":"quantitative","scale":{"domain":[0.55,0.85],"nice":false},"axis":{"values":[0.55,0.6,0.65,0.7,0.75,0.8,0.85],"format":"~g","labelOverlap":false},"title":"Probability of Tumor Shrinking"},"strokeDash":{"field":"s","type":"nominal","scale":{"domain":["o","y","b","p"],"range":[[1,0],[6,4],[7,3,2,3],[1.5,2]]},"legend":null}}},
{"mark":{"type":"point","filled":false,"size":40,"strokeWidth":1.5,"opacity":1},
"encoding":{"y":{"field":"m","type":"quantitative","scale":{"domain":[0.55,0.85],"nice":false},"axis":{"values":[0.55,0.6,0.65,0.7,0.75,0.8,0.85],"format":"~g","labelOverlap":false},"title":"Probability of Tumor Shrinking"},"shape":{"field":"s","type":"nominal","scale":{"domain":["o","y","b","p"],"range":["circle","square","diamond","M-0.8,-0.8L0.8,0.8M-0.8,0.8L0.8,-0.8M0,-1L0,1"]},"legend":null}}}
]
},
{
"width":359,"height":251,
"title":{"text":"(b)","dx":-80,"dy":27},
"data":{"name":"pb"},
"encoding":{
"x":{"field":"x","type":"quantitative","scale":{"domain":[1,4]},"axis":{"values":[1,2,3,4],"format":"d"},"title":"Trajectory STD multiplier, α: σ = α μ"},
"color":{"field":"s","type":"nominal","scale":{"domain":["o","y","b","p"],"range":["#D95319","#EDB120","#0072BD","#7E2F8E"]},"legend":null}
},
"layer":[
{"mark":{"type":"errorbar","thickness":1.6,"ticks":{"size":6,"thickness":1.4}},
"encoding":{"y":{"field":"lo","type":"quantitative","scale":{"domain":[0.55,0.9],"nice":false},"axis":{"values":[0.55,0.6,0.65,0.7,0.75,0.8,0.85,0.9],"format":"~g","labelOverlap":false,"labelBound":false},"title":"Probability of Tumor Shrinking"},"y2":{"field":"hi"}}},
{"mark":{"type":"line","strokeWidth":1.5},
"encoding":{"y":{"field":"m","type":"quantitative","scale":{"domain":[0.55,0.9],"nice":false},"axis":{"values":[0.55,0.6,0.65,0.7,0.75,0.8,0.85,0.9],"format":"~g","labelOverlap":false,"labelBound":false},"title":"Probability of Tumor Shrinking"},"strokeDash":{"field":"s","type":"nominal","scale":{"domain":["o","y","b","p"],"range":[[1,0],[6,4],[7,3,2,3],[1.5,2]]},"legend":null}}},
{"mark":{"type":"point","filled":false,"size":40,"strokeWidth":1.5,"opacity":1},
"encoding":{"y":{"field":"m","type":"quantitative","scale":{"domain":[0.55,0.9],"nice":false},"axis":{"values":[0.55,0.6,0.65,0.7,0.75,0.8,0.85,0.9],"format":"~g","labelOverlap":false,"labelBound":false},"title":"Probability of Tumor Shrinking"},"shape":{"field":"s","type":"nominal","scale":{"domain":["o","y","b","p"],"range":["circle","square","diamond","M-0.8,-0.8L0.8,0.8M-0.8,0.8L0.8,-0.8M0,-1L0,1"]},"legend":null}}}
]
},
{
"width":357,"height":253,
"title":{"text":"(c)","dx":-73,"dy":32},
"resolve":{"scale":{"color":"independent"}},
"layer":[
{"data":{"name":"traj"},
"mark":{"type":"point","filled":false,"size":22,"strokeWidth":0.8,"opacity":0.85},
"encoding":{
"x":{"field":"d","type":"quantitative","scale":{"domain":[0,30]},"axis":{"values":[0,5,10,15,20,25,30]},"title":"Time (days)"},
"y":{"field":"v","type":"quantitative","scale":{"domain":[0,1]},"axis":{"values":[0,0.2,0.4,0.6,0.8,1],"format":"~g","titleFontSize":15},"title":"Relative tumor size"},
"color":{"field":"p","type":"nominal","scale":{"domain":[1,2,3,4,5,6,7,8,9,10,11,12,13,14,15,16,17,18,19,20,21,22,23,24,25,26],"range":["#0072BD","#0072BD","#EDB120","#EDB120","#A2142F","#7E2F8E","#77AC30","#0072BD","#4DBEEE","#7E2F8E","#A2142F","#D95319","#EDB120","#77AC30","#77AC30","#A2142F","#7E2F8E","#D95319","#0072BD","#4DBEEE","#D95319","#EDB120","#7E2F8E","#77AC30","#A2142F","#0072BD"]},"legend":null}
}},
{"data":{"name":"curves"},
"mark":{"type":"line","clip":true},
"encoding":{
"x":{"field":"d","type":"quantitative","scale":{"domain":[0,30]},"title":"Time (days)"},
"y":{"field":"v","type":"quantitative","scale":{"domain":[0,1]},"title":"Relative tumor size"},
"detail":{"field":"k"},
"color":{"field":"a","type":"nominal","scale":{"domain":["α =2","α =3","α =4","Mean of Data"],"range":["#505050","#707070","#b0b0b0","#000000"]},
"legend":{"orient":"none","legendX":7,"legendY":8,"title":null,"strokeColor":"#a0a0a0","fillColor":"white","padding":5,"labelFontSize":16,"labelColor":"#000000","symbolType":"M-1.3,0H1.3","symbolSize":100,"symbolOffset":0,"labelOffset":9,"rowPadding":3}},
"strokeDash":{"field":"a","type":"nominal","scale":{"domain":["α =2","α =3","α =4","Mean of Data"],"range":[[1,0],[1,0],[1,0],[8,5]]},
"legend":{"orient":"none","legendX":7,"legendY":8,"title":null,"strokeColor":"#a0a0a0","fillColor":"white","padding":5,"labelFontSize":16,"labelColor":"#000000","symbolType":"M-1.3,0H1.3","symbolSize":100,"symbolOffset":0,"labelOffset":9,"rowPadding":3}},
"strokeWidth":{"field":"a","type":"nominal","scale":{"domain":["α =2","α =3","α =4","Mean of Data"],"range":[1.6,1.6,1.6,3]},
"legend":{"orient":"none","legendX":7,"legendY":8,"title":null,"strokeColor":"#a0a0a0","fillColor":"white","padding":5,"labelFontSize":16,"labelColor":"#000000","symbolType":"M-1.3,0H1.3","symbolSize":100,"symbolOffset":0,"labelOffset":9,"rowPadding":3}}
}}
]
},
{
"width":362,"height":252,
"view":{"stroke":"#a0a0a0"},
"title":{"text":"(d)","dx":-80,"dy":35},
"data":{"name":"pd"},
"encoding":{
"x":{"field":"n","type":"quantitative","scale":{"type":"log","domain":[100,50000]},"axis":{"values":[100,1000,10000],"labelExpr":"datum.value == 100 ? '10²' : datum.value == 1000 ? '10³' : '10⁴'","titleFontSize":13,"labelFontSize":13,"labelPadding":14},"title":"Number of Virtual Patients"},
"y":{"field":"v","type":"quantitative","scale":{"domain":[0.6,1],"nice":false},"axis":{"values":[0.6,0.65,0.7,0.75,0.8,0.85,0.9,0.95,1],"format":"~g","titleFontSize":13,"labelFontSize":13},"title":"Probability of Tumor Shrinking"},
"color":{"field":"s","type":"nominal","scale":{"domain":["A-R(n)","A-P(u)","A-R(u)","A-P(n)"],"range":["#0072BD","#D95319","#EDB120","#7E2F8E"]},
"legend":{"orient":"none","legendX":295,"legendY":12,"title":null,"strokeColor":"#808080","fillColor":"white","padding":2,"labelFontSize":12,"labelColor":"#222222","symbolSize":64,"symbolOffset":2,"labelOffset":8,"rowPadding":3,"symbolStrokeWidth":1.5,"symbolOpacity":1}}
},
"layer":[
{"mark":{"type":"line","strokeWidth":1.6},"encoding":{"strokeDash":{"field":"s","type":"nominal","scale":{"domain":["A-R(n)","A-P(u)","A-R(u)","A-P(n)"],"range":[[1,0],[6,4],[7,3,2,3],[1.5,2]]},"legend":null}}},
{"transform":[{"filter":"datum.s == 'A-R(n)' && datum.n < 50000"}],"mark":{"type":"point","shape":"circle","filled":false,"size":45,"strokeWidth":1.6,"opacity":1}},
{"transform":[{"filter":"datum.s == 'A-P(u)' && datum.n < 50000"}],"mark":{"type":"point","shape":"square","filled":false,"size":30,"strokeWidth":1.6,"opacity":1}},
{"transform":[{"filter":"datum.s == 'A-R(u)' && datum.n < 50000"}],"mark":{"type":"point","shape":"diamond","filled":false,"size":45,"strokeWidth":1.4,"opacity":1}},
{"transform":[{"filter":"datum.s == 'A-P(n)' && datum.n < 50000"}],"mark":{"type":"point","shape":"M-0.8,-0.8L0.8,0.8M-0.8,0.8L0.8,-0.8M0,-1L0,1","filled":false,"size":30,"strokeWidth":1.6,"opacity":1}},
{"mark":{"type":"point","filled":false,"opacity":0,"size":64},
"encoding":{"shape":{"field":"s","type":"nominal","scale":{"domain":["A-R(n)","A-P(u)","A-R(u)","A-P(n)"],"range":["M-3,0H-0.7M0.7,0H3M0.7,0A0.7,0.7,0,1,1,-0.7,0A0.7,0.7,0,1,1,0.7,0","M-3,0H-2.1M-1.5,0H-0.7M0.7,0H1.5M2.1,0H3M-0.6,-0.6H0.6V0.6H-0.6Z","M-3,0H-1.9M-1.5,0H-1.3M1.3,0H1.5M1.9,0H3M0,-0.9L0.9,0L0,0.9L-0.9,0Z","M-3,0H-2.7M-2.4,0H-2.1M-1.8,0H-1.5M-1.2,0H-0.9M0.9,0H1.2M1.5,0H1.8M2.1,0H2.4M2.7,0H3M-0.6,-0.6L0.6,0.6M-0.6,0.6L0.6,-0.6"]},
"legend":{"orient":"none","legendX":295,"legendY":12,"title":null,"strokeColor":"#808080","fillColor":"white","padding":2,"labelFontSize":12,"labelColor":"#222222","symbolSize":64,"symbolOffset":2,"labelOffset":8,"rowPadding":3,"symbolStrokeWidth":1.5,"symbolOpacity":1}}}}
]
}
],
"config":{
"font":"Liberation Sans",
"view":{"stroke":null},
"axis":{"grid":false,"domainColor":"#a0a0a0","tickColor":"#a0a0a0","tickSize":-4,"labelPadding":9,"labelOverlap":false,"labelColor":"#333333","labelFontSize":12,"titleColor":"#222222","titleFontWeight":"normal","titleFontSize":16,"titlePadding":5},
"title":{"fontSize":20,"fontWeight":"bold","anchor":"start","frame":"group","offset":0,"baseline":"top","color":"#000000"}
}
}
